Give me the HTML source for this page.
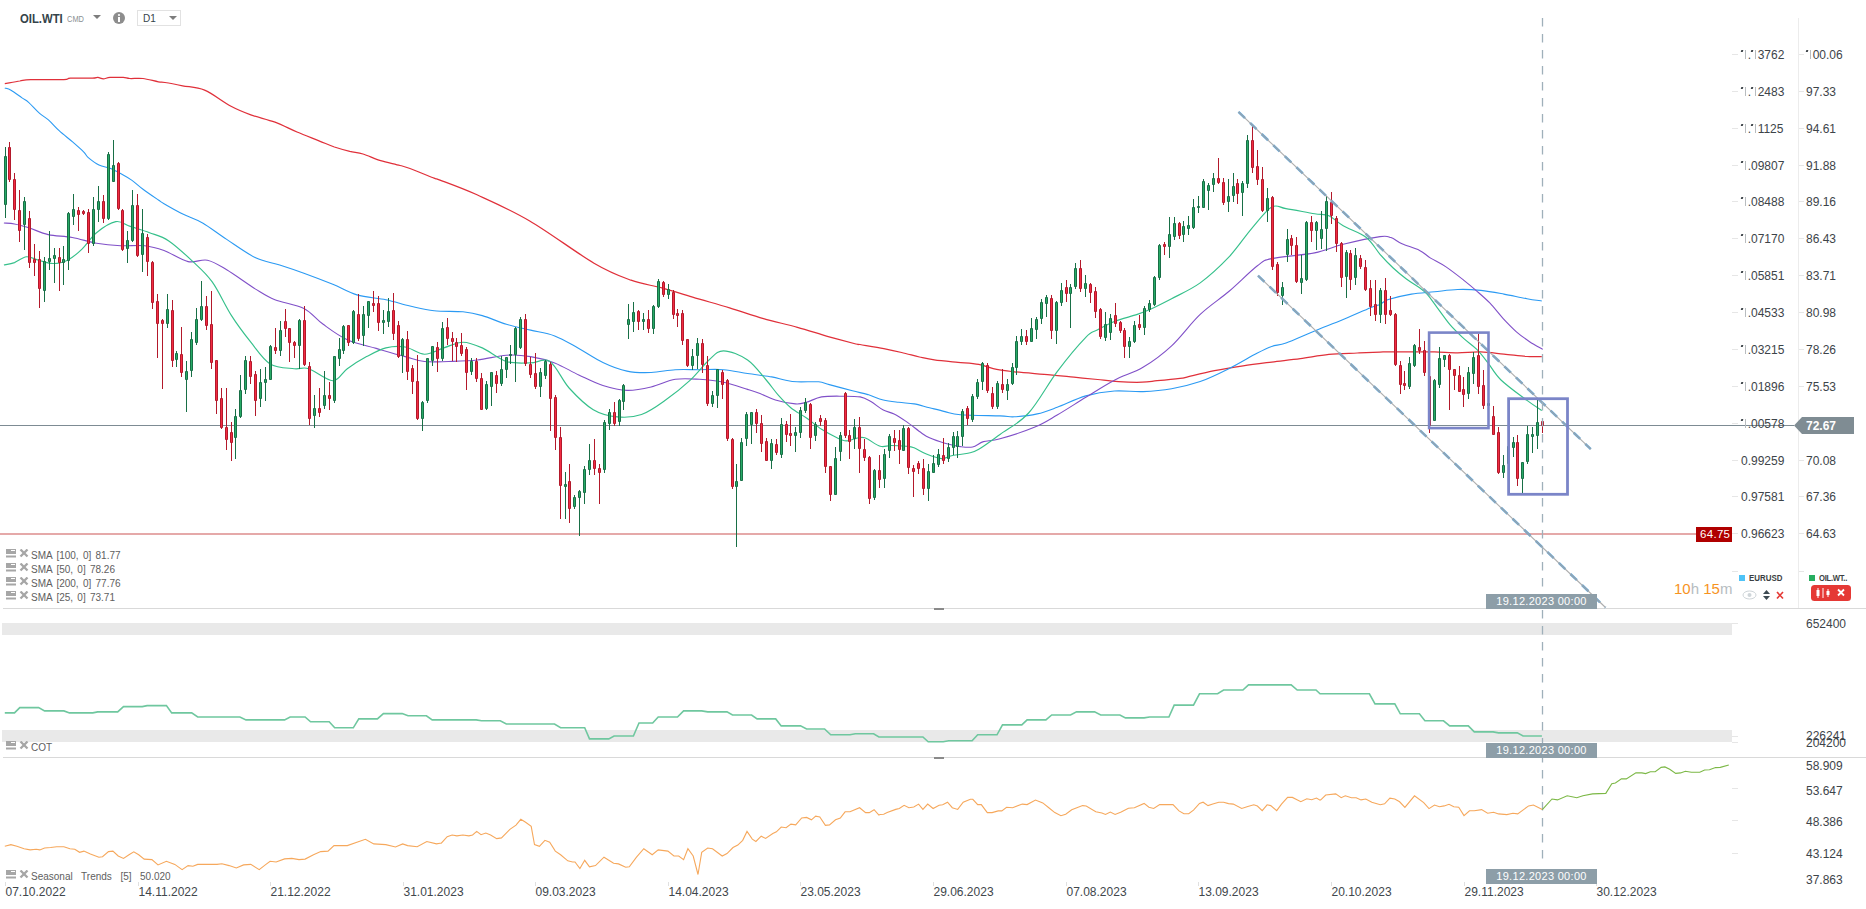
<!DOCTYPE html>
<html><head><meta charset="utf-8">
<style>
html,body{margin:0;padding:0;background:#fff;width:1866px;height:909px;overflow:hidden}
body{position:relative;font-family:"Liberation Sans",sans-serif}
.t{position:absolute;white-space:nowrap;line-height:1}
.ax{font-size:12px;color:#3d4449}
.dt{font-size:12px;color:#41474c;top:886px}
.lg{font-size:10px;color:#606060;word-spacing:1.5px}
.tag{position:absolute;background:#8d9ea8;color:#fff;font-size:11px;letter-spacing:0.3px;line-height:15px;height:15px;text-align:center}
.ic{position:absolute}
.one{display:inline-block;position:relative;width:6.67px;height:9px;vertical-align:baseline}.one:before{content:"";position:absolute;left:0.3px;top:-0.2px;width:1.6px;height:2.4px;background:#3d4449;transform:skewX(-15deg)}.one:after{content:"";position:absolute;left:4px;top:0;width:0.9px;height:8.8px;background:#b8bcbf}

</style></head><body>
<svg width="1866" height="909" viewBox="0 0 1866 909" style="position:absolute;left:0;top:0">
<rect x="2" y="623" width="1730" height="12" fill="#e9e9e9"/>
<rect x="2" y="730" width="1730" height="12" fill="#e9e9e9"/>
<line x1="3" y1="608.5" x2="1866" y2="608.5" stroke="#d9d9d9" stroke-width="1"/>
<line x1="3" y1="757.5" x2="1866" y2="757.5" stroke="#d9d9d9" stroke-width="1"/>
<rect x="934" y="608" width="10" height="2" fill="#8a8a8a"/>
<rect x="934" y="757" width="10" height="2" fill="#8a8a8a"/>
<line x1="1798.5" y1="18" x2="1798.5" y2="608" stroke="#ececec" stroke-width="1"/>
<line x1="1732" y1="54.5" x2="1738" y2="54.5" stroke="#e6e6e6"/>
<line x1="1799" y1="54.5" x2="1804" y2="54.5" stroke="#e6e6e6"/>
<line x1="1732" y1="91.5" x2="1738" y2="91.5" stroke="#e6e6e6"/>
<line x1="1799" y1="91.5" x2="1804" y2="91.5" stroke="#e6e6e6"/>
<line x1="1732" y1="128.5" x2="1738" y2="128.5" stroke="#e6e6e6"/>
<line x1="1799" y1="128.5" x2="1804" y2="128.5" stroke="#e6e6e6"/>
<line x1="1732" y1="165.5" x2="1738" y2="165.5" stroke="#e6e6e6"/>
<line x1="1799" y1="165.5" x2="1804" y2="165.5" stroke="#e6e6e6"/>
<line x1="1732" y1="201.5" x2="1738" y2="201.5" stroke="#e6e6e6"/>
<line x1="1799" y1="201.5" x2="1804" y2="201.5" stroke="#e6e6e6"/>
<line x1="1732" y1="238.5" x2="1738" y2="238.5" stroke="#e6e6e6"/>
<line x1="1799" y1="238.5" x2="1804" y2="238.5" stroke="#e6e6e6"/>
<line x1="1732" y1="275.5" x2="1738" y2="275.5" stroke="#e6e6e6"/>
<line x1="1799" y1="275.5" x2="1804" y2="275.5" stroke="#e6e6e6"/>
<line x1="1732" y1="312.5" x2="1738" y2="312.5" stroke="#e6e6e6"/>
<line x1="1799" y1="312.5" x2="1804" y2="312.5" stroke="#e6e6e6"/>
<line x1="1732" y1="349.5" x2="1738" y2="349.5" stroke="#e6e6e6"/>
<line x1="1799" y1="349.5" x2="1804" y2="349.5" stroke="#e6e6e6"/>
<line x1="1732" y1="386.5" x2="1738" y2="386.5" stroke="#e6e6e6"/>
<line x1="1799" y1="386.5" x2="1804" y2="386.5" stroke="#e6e6e6"/>
<line x1="1732" y1="423.5" x2="1738" y2="423.5" stroke="#e6e6e6"/>
<line x1="1799" y1="423.5" x2="1804" y2="423.5" stroke="#e6e6e6"/>
<line x1="1732" y1="460.5" x2="1738" y2="460.5" stroke="#e6e6e6"/>
<line x1="1799" y1="460.5" x2="1804" y2="460.5" stroke="#e6e6e6"/>
<line x1="1732" y1="496.5" x2="1738" y2="496.5" stroke="#e6e6e6"/>
<line x1="1799" y1="496.5" x2="1804" y2="496.5" stroke="#e6e6e6"/>
<line x1="1732" y1="533.5" x2="1738" y2="533.5" stroke="#e6e6e6"/>
<line x1="1799" y1="533.5" x2="1804" y2="533.5" stroke="#e6e6e6"/>
<line x1="1732" y1="571.5" x2="1738" y2="571.5" stroke="#e6e6e6"/>
<line x1="1799" y1="571.5" x2="1804" y2="571.5" stroke="#e6e6e6"/>
<line x1="1732" y1="623.5" x2="1738" y2="623.5" stroke="#e6e6e6"/>
<line x1="1732" y1="736.5" x2="1738" y2="736.5" stroke="#e6e6e6"/>
<line x1="1732" y1="742.5" x2="1738" y2="742.5" stroke="#e6e6e6"/>
<line x1="1732" y1="788.5" x2="1738" y2="788.5" stroke="#e6e6e6"/>
<line x1="1732" y1="820.5" x2="1738" y2="820.5" stroke="#e6e6e6"/>
<line x1="1732" y1="853.5" x2="1738" y2="853.5" stroke="#e6e6e6"/>
<line x1="5.5" y1="882" x2="5.5" y2="886" stroke="#e0e0e0"/>
<line x1="138.5" y1="882" x2="138.5" y2="886" stroke="#e0e0e0"/>
<line x1="270.5" y1="882" x2="270.5" y2="886" stroke="#e0e0e0"/>
<line x1="403.5" y1="882" x2="403.5" y2="886" stroke="#e0e0e0"/>
<line x1="535.5" y1="882" x2="535.5" y2="886" stroke="#e0e0e0"/>
<line x1="668.5" y1="882" x2="668.5" y2="886" stroke="#e0e0e0"/>
<line x1="800.5" y1="882" x2="800.5" y2="886" stroke="#e0e0e0"/>
<line x1="933.5" y1="882" x2="933.5" y2="886" stroke="#e0e0e0"/>
<line x1="1066.5" y1="882" x2="1066.5" y2="886" stroke="#e0e0e0"/>
<line x1="1198.5" y1="882" x2="1198.5" y2="886" stroke="#e0e0e0"/>
<line x1="1331.5" y1="882" x2="1331.5" y2="886" stroke="#e0e0e0"/>
<line x1="1464.5" y1="882" x2="1464.5" y2="886" stroke="#e0e0e0"/>
<line x1="1596.5" y1="882" x2="1596.5" y2="886" stroke="#e0e0e0"/>
<line x1="0" y1="425.5" x2="1794" y2="425.5" stroke="#7d8b93" stroke-width="1.2"/>
<line x1="0" y1="534" x2="1697" y2="534" stroke="#cc5555" stroke-width="1.2"/>
<path d="M4.8,83.6 C7.3,83.2 15.5,81.6 19.8,81.0 C24.1,80.3 23.5,79.9 30.8,79.6 C38.1,79.4 57.2,79.9 63.8,79.6 C70.4,79.4 65.6,78.4 70.4,78.1 C75.2,77.9 87.8,78.2 92.4,78.1 C97.0,78.0 96.1,77.3 97.9,77.4 C99.7,77.6 101.4,78.8 103.4,78.8 C105.4,78.8 106.7,77.7 110.0,77.4 C113.3,77.2 119.9,77.3 123.2,77.4 C126.5,77.6 126.5,78.4 129.8,78.5 C133.1,78.7 138.2,78.0 143.0,78.5 C147.8,79.1 154.7,81.2 158.4,81.8 C162.1,82.5 161.0,81.8 165.0,82.5 C169.1,83.2 176.0,84.5 182.6,85.8 C189.2,87.1 196.6,86.8 204.6,90.2 C212.7,93.6 223.3,102.2 231.0,106.3 C238.7,110.4 243.5,112.2 250.8,114.9 C258.2,117.5 267.3,119.3 275.0,122.1 C282.7,125.0 289.7,128.9 297.0,132.0 C304.4,135.1 312.8,138.3 319.0,140.8 C325.3,143.3 329.3,145.2 334.4,147.0 C339.6,148.7 345.1,150.2 349.8,151.4 C354.6,152.5 357.9,152.5 363.0,154.0 C368.2,155.6 374.5,158.7 380.6,160.6 C386.8,162.5 395.1,164.1 400.0,165.5 C404.9,166.8 404.3,166.4 410.0,168.5 C415.7,170.6 429.1,176.2 434.1,178.2 C439.1,180.1 432.9,177.3 440.0,180.1 C447.1,182.8 462.1,188.1 477.0,194.8 C491.9,201.6 509.8,209.3 529.3,220.7 C548.9,232.1 577.1,253.3 594.0,263.2 C611.0,273.2 619.7,276.1 631.0,280.2 C642.3,284.3 651.6,285.1 661.8,287.9 C672.1,290.7 681.3,293.8 692.6,297.1 C703.9,300.5 717.8,304.3 729.6,307.9 C741.4,311.5 752.2,315.5 763.5,318.7 C774.8,321.9 786.6,324.3 797.4,327.3 C808.2,330.3 818.4,333.8 828.2,336.6 C838.0,339.3 850.6,342.6 855.9,344.0 C861.2,345.3 855.4,343.7 860.0,344.5 C864.6,345.3 876.8,347.3 883.8,348.6 C890.7,350.0 895.7,351.1 901.6,352.5 C907.5,353.9 914.0,355.7 919.4,357.0 C924.9,358.2 927.8,359.0 934.3,359.9 C940.7,360.8 950.6,361.6 958.0,362.3 C965.5,363.0 972.4,363.2 978.8,364.4 C985.3,365.6 990.7,368.2 996.7,369.4 C1002.6,370.7 1005.6,370.9 1014.5,371.8 C1023.4,372.7 1040.2,373.9 1050.1,374.8 C1060.0,375.7 1066.0,376.4 1073.9,377.2 C1081.8,377.9 1090.2,378.8 1097.7,379.5 C1105.1,380.3 1111.0,381.2 1118.5,381.6 C1125.9,382.1 1135.8,382.4 1142.2,382.2 C1148.7,382.1 1150.8,381.4 1157.1,380.7 C1163.4,380.1 1175.2,378.9 1180.0,378.3 C1184.8,377.8 1180.1,378.6 1185.9,377.3 C1191.6,376.0 1204.9,372.6 1214.5,370.7 C1224.0,368.8 1233.5,367.3 1243.1,365.9 C1252.6,364.4 1262.1,363.3 1271.7,362.1 C1281.2,360.9 1290.7,360.0 1300.3,358.7 C1309.8,357.4 1319.3,355.4 1328.9,354.4 C1338.4,353.5 1348.9,353.4 1357.4,353.0 C1366.0,352.6 1374.9,352.3 1380.0,352.1 C1385.2,351.9 1383.1,351.9 1388.3,351.9 C1393.6,351.8 1403.7,351.9 1411.4,351.9 C1419.1,351.9 1426.9,351.7 1434.6,351.9 C1442.3,352.0 1450.0,352.8 1457.7,352.8 C1465.4,352.8 1473.1,351.6 1480.8,351.9 C1488.5,352.1 1496.2,353.4 1503.9,354.2 C1511.6,354.9 1520.7,356.1 1527.0,356.5 C1533.3,356.9 1539.3,356.5 1541.8,356.5" fill="none" stroke="#e0303a" stroke-width="1.25" stroke-linejoin="round"/>
<path d="M4.8,88.0 C5.9,88.4 8.1,88.6 11.0,90.2 C13.9,91.9 19.1,95.9 22.0,97.9 C24.9,99.9 25.7,99.7 28.6,102.3 C31.5,104.9 36.3,110.4 39.6,113.3 C42.9,116.2 45.1,117.0 48.4,119.9 C51.7,122.8 55.4,127.2 59.4,130.9 C63.4,134.6 68.6,138.4 72.6,141.9 C76.6,145.4 81.0,149.2 83.6,151.8 C86.2,154.4 85.4,155.1 88.0,157.3 C90.6,159.5 95.3,163.2 99.0,165.0 C102.7,166.9 106.3,166.9 110.0,168.3 C113.7,169.8 117.3,171.8 121.0,173.8 C124.7,175.8 128.3,177.9 132.0,180.4 C135.7,183.0 138.6,186.0 143.0,189.2 C147.4,192.5 154.9,197.6 158.4,200.0 C161.9,202.4 159.8,201.3 164.0,203.7 C168.1,206.1 176.9,211.1 183.3,214.3 C189.7,217.6 195.3,218.8 202.6,223.0 C209.8,227.2 217.8,233.6 226.7,239.4 C235.5,245.2 246.8,253.5 255.6,257.8 C264.5,262.0 271.7,262.4 279.7,265.0 C287.8,267.6 295.0,270.0 303.9,273.2 C312.7,276.4 324.0,280.7 332.8,284.3 C341.6,287.9 348.1,292.3 356.9,294.9 C365.8,297.5 377.0,297.9 385.9,299.7 C394.7,301.6 401.9,304.1 410.0,306.0 C418.0,307.8 425.2,309.8 434.1,310.8 C442.9,311.8 455.0,311.0 463.0,311.8 C471.1,312.6 475.1,313.5 482.3,315.6 C489.6,317.7 498.4,321.9 506.4,324.3 C514.5,326.7 522.5,328.2 530.6,330.1 C538.6,332.0 546.6,332.8 554.7,335.9 C562.7,338.9 570.7,344.0 578.8,348.4 C586.8,352.9 594.9,358.6 602.9,362.4 C610.9,366.2 619.0,369.4 627.0,371.1 C635.1,372.8 643.1,372.8 651.1,372.5 C659.2,372.3 667.2,370.1 675.3,369.7 C683.3,369.2 691.3,369.7 699.4,369.7 C707.4,369.7 715.4,369.0 723.5,369.7 C731.5,370.3 739.6,372.3 747.6,373.5 C755.6,374.7 765.5,375.8 771.7,376.9 C777.9,378.0 780.4,379.2 784.7,380.0 C788.9,380.8 791.3,381.5 797.0,381.8 C802.6,382.2 813.2,381.4 818.6,381.8 C823.9,382.3 823.7,383.1 829.3,384.6 C835.0,386.1 846.0,389.1 852.4,390.8 C858.9,392.5 862.7,393.1 867.9,394.6 C873.0,396.2 878.1,398.7 883.3,400.0 C888.4,401.3 893.5,401.7 898.7,402.3 C903.8,403.0 908.9,403.0 914.1,403.9 C919.2,404.8 924.4,406.5 929.5,407.7 C934.6,409.0 939.8,410.4 944.9,411.6 C950.0,412.7 951.1,414.0 960.3,414.7 C969.5,415.4 991.0,415.6 1000.0,415.9 C1009.0,416.2 1008.1,417.1 1014.3,416.8 C1020.5,416.4 1030.0,415.5 1037.2,413.9 C1044.3,412.3 1049.1,410.3 1057.2,407.3 C1065.3,404.3 1076.3,398.6 1085.8,395.9 C1095.3,393.2 1104.9,391.7 1114.4,391.0 C1123.9,390.3 1133.4,392.0 1143.0,391.6 C1152.5,391.2 1162.0,390.4 1171.6,388.7 C1181.1,387.1 1190.6,384.9 1200.2,381.6 C1209.7,378.2 1219.2,373.5 1228.8,368.7 C1238.3,364.0 1250.2,356.7 1257.4,353.0 C1264.5,349.3 1266.9,348.1 1271.7,346.4 C1276.4,344.7 1278.8,345.6 1286.0,343.0 C1293.1,340.4 1305.0,334.9 1314.6,331.0 C1324.1,327.1 1333.6,323.5 1343.2,319.5 C1352.7,315.6 1365.6,309.8 1371.7,307.2 C1377.9,304.7 1377.3,305.6 1380.0,304.4 C1382.8,303.1 1383.1,301.4 1388.3,299.6 C1393.6,297.9 1403.7,295.4 1411.4,294.1 C1419.1,292.8 1426.9,292.6 1434.6,291.8 C1442.3,291.0 1450.0,289.7 1457.7,289.5 C1465.4,289.2 1473.1,289.6 1480.8,290.4 C1488.5,291.2 1496.2,292.7 1503.9,294.1 C1511.6,295.5 1520.7,297.6 1527.0,298.7 C1533.3,299.9 1539.3,300.6 1541.8,301.0" fill="none" stroke="#2b9af3" stroke-width="1.1" stroke-linejoin="round"/>
<path d="M3.9,223.0 C5.6,223.2 10.3,223.2 14.5,224.0 C18.6,224.8 23.3,226.1 28.9,227.8 C34.6,229.6 41.0,233.0 48.2,234.6 C55.5,236.2 64.3,236.0 72.3,237.5 C80.4,238.9 88.4,241.9 96.5,243.3 C104.5,244.6 112.5,245.3 120.6,245.7 C128.6,246.1 137.5,244.9 144.7,245.7 C151.9,246.5 156.8,247.9 164.0,250.5 C171.2,253.2 180.9,260.0 188.1,261.6 C195.3,263.2 201.0,258.8 207.4,260.2 C213.8,261.5 218.7,265.0 226.7,269.8 C234.7,274.6 247.6,284.1 255.6,289.1 C263.7,294.1 266.9,296.5 274.9,299.7 C283.0,302.9 295.8,304.3 303.9,308.4 C311.9,312.5 315.9,319.1 323.2,324.3 C330.4,329.5 338.4,335.7 347.3,339.7 C356.1,343.8 366.6,345.6 376.2,348.4 C385.9,351.2 397.1,354.5 405.2,356.6 C413.2,358.8 417.2,360.6 424.4,361.5 C431.7,362.3 439.7,361.7 448.6,361.5 C457.4,361.2 467.9,361.0 477.5,360.0 C487.1,359.0 497.6,355.7 506.4,355.2 C515.3,354.6 522.5,355.3 530.6,356.6 C538.6,357.9 546.6,359.8 554.7,362.9 C562.7,366.0 570.7,371.2 578.8,375.0 C586.8,378.7 594.9,383.0 602.9,385.6 C610.9,388.1 619.0,390.2 627.0,390.4 C635.1,390.6 643.1,388.9 651.1,387.0 C659.2,385.2 667.2,380.6 675.3,379.3 C683.3,378.0 691.3,378.8 699.4,379.3 C707.4,379.8 715.4,380.5 723.5,382.2 C731.5,383.9 741.5,387.5 747.6,389.4 C753.7,391.3 755.4,391.8 760.0,393.6 C764.6,395.3 769.5,398.3 775.4,400.0 C781.3,401.8 790.3,403.5 795.4,403.9 C800.6,404.3 801.9,403.5 806.2,402.3 C810.6,401.2 815.5,398.0 821.6,396.9 C827.8,395.9 836.8,396.2 843.2,396.2 C849.6,396.2 855.5,396.1 860.2,396.9 C864.8,397.8 867.1,399.4 870.9,401.6 C874.8,403.8 879.4,408.0 883.3,410.0 C887.1,412.1 890.2,412.0 894.1,413.9 C897.9,415.8 901.8,418.4 906.4,421.6 C911.0,424.8 917.9,430.5 921.8,433.2 C925.6,435.9 925.6,436.1 929.5,437.8 C933.3,439.5 939.8,441.7 944.9,443.2 C950.0,444.6 955.7,445.9 960.3,446.6 C964.9,447.2 968.8,447.8 972.6,447.0 C976.5,446.2 978.9,443.0 983.4,441.6 C988.0,440.3 991.5,441.2 1000.0,438.8 C1008.5,436.4 1024.8,431.3 1034.3,427.3 C1043.8,423.4 1048.6,420.0 1057.2,415.0 C1065.8,410.0 1076.3,403.1 1085.8,397.3 C1095.3,391.5 1104.9,385.2 1114.4,380.2 C1123.9,375.2 1133.4,373.0 1143.0,367.3 C1152.5,361.6 1162.0,354.7 1171.6,345.8 C1181.1,337.0 1190.6,323.4 1200.2,314.4 C1209.7,305.3 1219.2,299.6 1228.8,291.5 C1238.3,283.4 1250.2,271.3 1257.4,265.8 C1264.5,260.3 1262.1,260.8 1271.7,258.6 C1281.2,256.5 1302.6,255.3 1314.6,252.9 C1326.5,250.5 1332.2,247.0 1343.2,244.3 C1354.1,241.6 1372.1,237.7 1380.0,236.6 C1388.0,235.5 1387.3,236.4 1391.0,237.6 C1394.7,238.8 1397.2,241.7 1402.0,243.8 C1406.8,245.9 1414.8,248.0 1419.6,250.4 C1424.4,252.8 1426.2,255.3 1430.6,258.1 C1435.0,260.8 1440.5,263.2 1446.0,266.9 C1451.5,270.6 1458.5,276.1 1463.6,280.1 C1468.7,284.1 1472.4,287.2 1476.8,291.1 C1481.2,294.9 1485.6,298.6 1490.0,303.2 C1494.4,307.8 1498.8,313.8 1503.2,318.6 C1507.6,323.3 1512.0,327.9 1516.4,331.8 C1520.8,335.6 1525.2,338.7 1529.6,341.7 C1534.0,344.6 1540.6,348.1 1542.8,349.4" fill="none" stroke="#8050c8" stroke-width="1.1" stroke-linejoin="round"/>
<path d="M3.9,265.0 C5.6,264.6 10.7,263.9 14.5,262.6 C18.2,261.2 22.5,257.2 26.5,256.8 C30.5,256.4 34.2,259.0 38.6,260.2 C43.0,261.3 48.2,263.5 53.1,263.5 C57.9,263.5 62.7,262.6 67.5,260.2 C72.3,257.8 77.2,253.7 82.0,249.1 C86.8,244.5 90.8,237.3 96.5,232.7 C102.1,228.1 110.1,222.6 115.8,221.6 C121.4,220.5 124.6,224.6 130.2,226.4 C135.9,228.3 143.1,230.3 149.5,232.7 C156.0,235.1 161.6,236.0 168.8,240.9 C176.0,245.7 185.7,254.8 192.9,261.6 C200.2,268.4 205.8,272.9 212.2,281.9 C218.7,290.9 225.1,305.6 231.5,315.6 C237.9,325.7 244.4,334.1 250.8,342.2 C257.2,350.2 262.9,359.4 270.1,363.9 C277.3,368.3 287.8,367.9 294.2,368.7 C300.6,369.5 302.3,366.7 308.7,368.7 C315.1,370.7 326.4,380.7 332.8,380.7 C339.2,380.7 341.6,372.7 347.3,368.7 C352.9,364.7 360.1,360.1 366.6,356.6 C373.0,353.2 379.4,349.6 385.9,347.9 C392.3,346.3 398.7,345.9 405.2,347.0 C411.6,348.0 418.0,354.1 424.4,354.2 C430.9,354.4 437.3,350.0 443.7,347.9 C450.2,345.9 456.6,342.2 463.0,342.2 C469.5,342.2 475.1,344.7 482.3,347.9 C489.6,351.2 498.4,359.0 506.4,361.5 C514.5,363.9 523.3,362.9 530.6,362.9 C537.8,362.9 543.4,357.3 549.8,361.5 C556.3,365.6 561.9,379.9 569.1,388.0 C576.4,396.0 585.2,404.9 593.3,409.7 C601.3,414.5 609.3,416.1 617.4,416.9 C625.4,417.7 633.5,417.3 641.5,414.5 C649.5,411.7 657.6,405.7 665.6,400.0 C673.6,394.4 682.5,387.4 689.7,380.7 C697.0,374.1 703.4,365.0 709.0,360.0 C714.6,355.0 717.1,350.8 723.5,350.8 C729.9,350.8 740.5,355.1 747.6,360.0 C754.7,364.9 761.0,374.1 766.2,380.0 C771.3,385.9 774.4,390.8 778.5,395.4 C782.6,400.0 786.2,404.0 790.8,407.7 C795.4,411.5 801.1,414.2 806.2,417.8 C811.4,421.3 816.5,426.0 821.6,429.3 C826.8,432.6 832.9,435.9 837.0,437.8 C841.2,439.7 843.2,440.7 846.3,440.9 C849.4,441.0 852.4,439.1 855.5,438.6 C858.6,438.0 860.7,436.5 864.8,437.8 C868.9,439.1 875.8,445.0 880.2,446.3 C884.6,447.5 886.6,445.5 891.0,445.5 C895.3,445.5 902.5,445.9 906.4,446.3 C910.2,446.6 910.7,446.5 914.1,447.8 C917.4,449.1 921.8,452.2 926.4,454.0 C931.0,455.8 937.5,458.3 941.8,458.6 C946.2,458.8 948.2,456.4 952.6,455.5 C957.0,454.6 963.6,454.2 968.0,453.2 C972.4,452.2 973.5,452.5 978.8,449.3 C984.1,446.2 991.7,440.5 1000.0,434.5 C1008.3,428.4 1019.1,423.5 1028.6,413.0 C1038.1,402.6 1047.7,384.2 1057.2,371.6 C1066.7,358.9 1079.1,344.2 1085.8,337.3 C1092.5,330.3 1092.5,332.7 1097.2,330.1 C1102.0,327.5 1107.7,324.2 1114.4,321.5 C1121.1,318.9 1131.1,316.5 1137.3,314.4 C1143.5,312.2 1145.8,311.3 1151.6,308.7 C1157.3,306.0 1163.5,302.9 1171.6,298.7 C1179.7,294.4 1190.6,289.8 1200.2,282.9 C1209.7,276.0 1220.2,266.2 1228.8,257.2 C1237.3,248.1 1244.5,236.9 1251.6,228.6 C1258.8,220.3 1265.9,210.5 1271.7,207.1 C1277.4,203.8 1278.8,207.5 1286.0,208.6 C1293.1,209.7 1307.4,212.5 1314.6,213.7 C1321.7,214.9 1324.1,213.7 1328.9,215.7 C1333.6,217.7 1337.0,222.2 1343.2,225.7 C1349.3,229.3 1359.9,232.4 1366.0,237.2 C1372.2,241.9 1375.5,249.2 1380.0,254.3 C1384.6,259.5 1388.8,263.9 1393.2,268.0 C1397.6,272.1 1402.0,275.7 1406.4,279.0 C1410.8,282.3 1416.1,285.2 1419.6,287.8 C1423.1,290.4 1424.4,291.1 1427.3,294.4 C1430.2,297.7 1433.3,302.5 1437.2,307.6 C1441.0,312.7 1446.0,320.0 1450.4,325.2 C1454.8,330.3 1459.2,334.3 1463.6,338.4 C1468.0,342.4 1472.8,345.3 1476.8,349.4 C1480.8,353.4 1483.8,357.5 1487.8,362.6 C1491.8,367.7 1494.5,373.7 1501.0,380.0 C1507.5,386.3 1520.2,395.3 1527.0,400.4 C1533.8,405.5 1539.3,408.9 1541.8,410.6" fill="none" stroke="#36c08b" stroke-width="1.15" stroke-linejoin="round"/>
<path d="M5.5,147V218M24.5,197V250M44.5,257V302M49.5,231V270M54.5,248V283M63.5,246V285M68.5,212V270M73.5,194V225M93.5,197V246M98.5,186V222M108.5,152V220M113.5,140V182M127.5,231V263M132.5,190V242M142.5,209V272M167.5,294V328M176.5,351V367M186.5,361V412M191.5,332V377M196.5,308V345M201.5,281V321M235.5,409V459M240.5,375V418M245.5,356V394M260.5,369V407M265.5,367V401M270.5,345V380M280.5,321V356M299.5,319V369M314.5,395V428M324.5,371V409M334.5,356V403M339.5,338V366M343.5,325V354M353.5,310V344M363.5,306V346M368.5,301V328M383.5,310V334M388.5,298V327M402.5,338V373M422.5,401V431M427.5,358V403M432.5,346V366M442.5,322V361M471.5,358V375M486.5,381V410M491.5,372V406M501.5,356V386M506.5,357V378M510.5,345V364M515.5,327V382M520.5,317V349M540.5,368V397M545.5,360V379M565.5,472V519M574.5,495V509M579.5,490V536M584.5,466V504M589.5,444V475M604.5,420V473M609.5,409V430M619.5,399V426M623.5,384V410M628.5,304V339M633.5,302V332M643.5,313V330M653.5,305V334M658.5,279V308M668.5,284V299M692.5,349V370M697.5,338V369M712.5,391V407M717.5,369V408M736.5,464V547M741.5,438V481M746.5,412V446M751.5,412V444M771.5,439V469M781.5,418V458M795.5,427V452M800.5,407V438M805.5,398V413M815.5,422V441M835.5,447V495M840.5,432V461M854.5,419V449M874.5,469V500M884.5,449V488M889.5,434V458M903.5,425V451M928.5,464V501M933.5,455V473M938.5,449V467M948.5,443V462M953.5,432V455M957.5,431V458M962.5,409V446M972.5,394V422M977.5,379V399M982.5,362V390M997.5,381V409M1007.5,379V400M1012.5,363V385M1016.5,336V375M1021.5,329V345M1031.5,318V342M1036.5,317V339M1041.5,299V324M1046.5,295V317M1056.5,301V344M1061.5,283V306M1070.5,284V328M1075.5,263V289M1085.5,275V297M1105.5,312V341M1110.5,314V340M1129.5,337V358M1134.5,321V343M1144.5,306V335M1149.5,300V312M1154.5,276V306M1159.5,244V280M1169.5,217V258M1174.5,217V240M1183.5,221V242M1188.5,216V235M1193.5,199V229M1198.5,196V213M1203.5,179V208M1208.5,183V210M1213.5,173V192M1228.5,179V212M1233.5,173V202M1242.5,181V216M1247.5,135V188M1267.5,188V222M1282.5,282V305M1287.5,229V262M1301.5,255V294M1306.5,221V281M1316.5,221V250M1321.5,211V249M1326.5,196V251M1346.5,250V298M1355.5,248V285M1380.5,288V323M1409.5,357V389M1414.5,344V367M1434.5,379V421M1439.5,347V388M1444.5,355V367M1468.5,367V399M1473.5,352V384M1488.5,399V409M1503.5,455V478M1508.5,445V465M1513.5,437V457M1522.5,462V493M1527.5,426V464M1532.5,427V453M1537.5,400V449" stroke="#186f46" stroke-width="1" fill="none"/>
<path d="M9.5,142V182M14.5,173V220M19.5,190V242M29.5,211V268M34.5,244V276M39.5,251V308M59.5,248V291M78.5,207V231M83.5,210V215M88.5,209V253M103.5,195V223M118.5,162V210M122.5,209V251M137.5,194V257M147.5,234V276M152.5,261V309M157.5,294V358M162.5,319V389M172.5,300V367M181.5,327V377M206.5,296V330M211.5,291V369M216.5,360V414M221.5,388V429M226.5,388V450M231.5,422V461M250.5,356V384M255.5,371V416M275.5,328V354M285.5,309V337M289.5,328V362M294.5,341V358M304.5,306V366M309.5,362V425M319.5,388V417M329.5,382V410M348.5,325V346M358.5,294V341M373.5,291V312M378.5,296V331M393.5,293V340M398.5,321V358M407.5,331V380M412.5,365V394M417.5,355V420M437.5,342V372M447.5,318V345M452.5,332V361M456.5,338V362M461.5,333V356M466.5,347V390M476.5,358V382M481.5,373V410M496.5,371V393M525.5,314V366M530.5,357V378M535.5,353V389M550.5,362V431M555.5,395V450M560.5,427V519M569.5,464V523M594.5,439V475M599.5,464V504M614.5,402V426M638.5,310V330M648.5,310V333M663.5,281V297M673.5,290V319M677.5,309V327M682.5,310V345M687.5,339V367M702.5,339V373M707.5,356V406M722.5,370V399M727.5,379V441M732.5,438V489M756.5,409V433M761.5,415V452M766.5,438V461M776.5,439V455M786.5,421V442M790.5,414V446M810.5,403V449M820.5,415V426M825.5,418V473M830.5,466V501M845.5,392V438M849.5,430V459M859.5,417V473M864.5,439V461M869.5,456V504M879.5,455V488M894.5,430V451M899.5,430V464M908.5,427V474M913.5,465V497M918.5,461V474M923.5,459V495M943.5,438V464M967.5,406V425M987.5,363V393M992.5,387V409M1002.5,369V393M1026.5,330V345M1051.5,295V339M1066.5,280V302M1080.5,260V292M1090.5,283V303M1095.5,287V318M1100.5,308V339M1115.5,303V327M1120.5,321V333M1124.5,328V358M1139.5,315V330M1164.5,242V255M1179.5,222V239M1218.5,158V184M1223.5,178V205M1237.5,179V204M1252.5,125V173M1257.5,150V185M1262.5,167V212M1272.5,196V270M1277.5,262V296M1291.5,235V255M1296.5,237V283M1311.5,216V242M1331.5,192V224M1336.5,216V252M1341.5,242V287M1350.5,250V290M1360.5,255V269M1365.5,260V291M1370.5,280V316M1375.5,280V321M1385.5,278V324M1390.5,296V316M1395.5,313V366M1400.5,361V394M1404.5,371V390M1419.5,329V354M1424.5,341V376M1429.5,374V433M1449.5,354V410M1454.5,369V390M1459.5,366V392M1463.5,377V407M1478.5,334V394M1483.5,370V409M1493.5,406V435M1498.5,427V474M1517.5,435V486M1542.5,420V433" stroke="#b3192b" stroke-width="1" fill="none"/>
<path d="M4.5,156.5H6.5V204.5H4.5ZM23.5,201.5H25.5V224.5H23.5ZM43.5,261.5H45.5V290.5H43.5ZM48.5,258.5H50.5V261.5H48.5ZM53.5,255.5H55.5V258.5H53.5ZM62.5,259.5H64.5V262.5H62.5ZM67.5,213.5H69.5V260.5H67.5ZM72.5,209.5H74.5V216.5H72.5ZM92.5,209.5H94.5V243.5H92.5ZM97.5,201.5H99.5V209.5H97.5ZM107.5,154.5H109.5V218.5H107.5ZM112.5,165.5H114.5V181.5H112.5ZM126.5,240.5H128.5V248.5H126.5ZM131.5,205.5H133.5V240.5H131.5ZM141.5,233.5H143.5V254.5H141.5ZM166.5,309.5H168.5V323.5H166.5ZM175.5,353.5H177.5V359.5H175.5ZM185.5,371.5H187.5V379.5H185.5ZM190.5,339.5H192.5V370.5H190.5ZM195.5,319.5H197.5V342.5H195.5ZM200.5,306.5H202.5V319.5H200.5ZM234.5,416.5H236.5V437.5H234.5ZM239.5,390.5H241.5V416.5H239.5ZM244.5,360.5H246.5V389.5H244.5ZM259.5,382.5H261.5V398.5H259.5ZM264.5,379.5H266.5V382.5H264.5ZM269.5,346.5H271.5V379.5H269.5ZM279.5,330.5H281.5V350.5H279.5ZM298.5,320.5H300.5V345.5H298.5ZM313.5,408.5H315.5V415.5H313.5ZM323.5,395.5H325.5V405.5H323.5ZM333.5,356.5H335.5V400.5H333.5ZM338.5,349.5H340.5V358.5H338.5ZM342.5,326.5H344.5V350.5H342.5ZM352.5,311.5H354.5V342.5H352.5ZM362.5,314.5H364.5V335.5H362.5ZM367.5,301.5H369.5V315.5H367.5ZM382.5,320.5H384.5V322.5H382.5ZM387.5,311.5H389.5V321.5H387.5ZM401.5,339.5H403.5V355.5H401.5ZM421.5,402.5H423.5V418.5H421.5ZM426.5,358.5H428.5V400.5H426.5ZM431.5,346.5H433.5V360.5H431.5ZM441.5,328.5H443.5V358.5H441.5ZM470.5,361.5H472.5V371.5H470.5ZM485.5,384.5H487.5V408.5H485.5ZM490.5,372.5H492.5V386.5H490.5ZM500.5,369.5H502.5V383.5H500.5ZM505.5,357.5H507.5V369.5H505.5ZM509.5,354.5H511.5V355.5H509.5ZM514.5,328.5H516.5V354.5H514.5ZM519.5,319.5H521.5V347.5H519.5ZM539.5,372.5H541.5V386.5H539.5ZM544.5,361.5H546.5V375.5H544.5ZM564.5,484.5H566.5V486.5H564.5ZM573.5,497.5H575.5V506.5H573.5ZM578.5,491.5H580.5V497.5H578.5ZM583.5,469.5H585.5V492.5H583.5ZM588.5,460.5H590.5V469.5H588.5ZM603.5,422.5H605.5V469.5H603.5ZM608.5,412.5H610.5V423.5H608.5ZM618.5,400.5H620.5V421.5H618.5ZM622.5,385.5H624.5V401.5H622.5ZM627.5,319.5H629.5V324.5H627.5ZM632.5,312.5H634.5V321.5H632.5ZM642.5,319.5H644.5V321.5H642.5ZM652.5,306.5H654.5V328.5H652.5ZM657.5,281.5H659.5V306.5H657.5ZM667.5,289.5H669.5V294.5H667.5ZM691.5,356.5H693.5V365.5H691.5ZM696.5,343.5H698.5V355.5H696.5ZM711.5,395.5H713.5V403.5H711.5ZM716.5,369.5H718.5V395.5H716.5ZM735.5,481.5H737.5V486.5H735.5ZM740.5,442.5H742.5V480.5H740.5ZM745.5,414.5H747.5V438.5H745.5ZM750.5,412.5H752.5V424.5H750.5ZM770.5,443.5H772.5V460.5H770.5ZM780.5,424.5H782.5V454.5H780.5ZM794.5,432.5H796.5V435.5H794.5ZM799.5,410.5H801.5V432.5H799.5ZM804.5,402.5H806.5V410.5H804.5ZM814.5,424.5H816.5V435.5H814.5ZM834.5,458.5H836.5V494.5H834.5ZM839.5,435.5H841.5V451.5H839.5ZM853.5,427.5H855.5V438.5H853.5ZM873.5,470.5H875.5V497.5H873.5ZM883.5,454.5H885.5V478.5H883.5ZM888.5,436.5H890.5V450.5H888.5ZM902.5,428.5H904.5V450.5H902.5ZM927.5,471.5H929.5V488.5H927.5ZM932.5,463.5H934.5V472.5H932.5ZM937.5,454.5H939.5V464.5H937.5ZM947.5,447.5H949.5V458.5H947.5ZM952.5,436.5H954.5V447.5H952.5ZM956.5,436.5H958.5V446.5H956.5ZM961.5,411.5H963.5V436.5H961.5ZM971.5,396.5H973.5V419.5H971.5ZM976.5,382.5H978.5V396.5H976.5ZM981.5,363.5H983.5V381.5H981.5ZM996.5,383.5H998.5V406.5H996.5ZM1006.5,384.5H1008.5V390.5H1006.5ZM1011.5,367.5H1013.5V383.5H1011.5ZM1015.5,341.5H1017.5V367.5H1015.5ZM1020.5,336.5H1022.5V341.5H1020.5ZM1030.5,328.5H1032.5V341.5H1030.5ZM1035.5,319.5H1037.5V329.5H1035.5ZM1040.5,302.5H1042.5V318.5H1040.5ZM1045.5,297.5H1047.5V303.5H1045.5ZM1055.5,302.5H1057.5V330.5H1055.5ZM1060.5,290.5H1062.5V302.5H1060.5ZM1069.5,287.5H1071.5V293.5H1069.5ZM1074.5,268.5H1076.5V286.5H1074.5ZM1084.5,283.5H1086.5V288.5H1084.5ZM1104.5,324.5H1106.5V337.5H1104.5ZM1109.5,318.5H1111.5V332.5H1109.5ZM1128.5,341.5H1130.5V346.5H1128.5ZM1133.5,325.5H1135.5V341.5H1133.5ZM1143.5,308.5H1145.5V327.5H1143.5ZM1148.5,303.5H1150.5V309.5H1148.5ZM1153.5,277.5H1155.5V304.5H1153.5ZM1158.5,245.5H1160.5V277.5H1158.5ZM1168.5,234.5H1170.5V246.5H1168.5ZM1173.5,223.5H1175.5V236.5H1173.5ZM1182.5,226.5H1184.5V234.5H1182.5ZM1187.5,225.5H1189.5V228.5H1187.5ZM1192.5,207.5H1194.5V227.5H1192.5ZM1197.5,206.5H1199.5V207.5H1197.5ZM1202.5,181.5H1204.5V207.5H1202.5ZM1207.5,185.5H1209.5V190.5H1207.5ZM1212.5,178.5H1214.5V184.5H1212.5ZM1227.5,196.5H1229.5V201.5H1227.5ZM1232.5,186.5H1234.5V195.5H1232.5ZM1241.5,183.5H1243.5V192.5H1241.5ZM1246.5,140.5H1248.5V183.5H1246.5ZM1266.5,198.5H1268.5V210.5H1266.5ZM1281.5,287.5H1283.5V295.5H1281.5ZM1286.5,239.5H1288.5V254.5H1286.5ZM1300.5,278.5H1302.5V282.5H1300.5ZM1305.5,222.5H1307.5V279.5H1305.5ZM1315.5,222.5H1317.5V230.5H1315.5ZM1320.5,229.5H1322.5V238.5H1320.5ZM1325.5,201.5H1327.5V228.5H1325.5ZM1345.5,252.5H1347.5V276.5H1345.5ZM1354.5,255.5H1356.5V277.5H1354.5ZM1379.5,290.5H1381.5V314.5H1379.5ZM1408.5,363.5H1410.5V386.5H1408.5ZM1413.5,345.5H1415.5V365.5H1413.5ZM1433.5,380.5H1435.5V420.5H1433.5ZM1438.5,358.5H1440.5V384.5H1438.5ZM1443.5,355.5H1445.5V359.5H1443.5ZM1467.5,372.5H1469.5V393.5H1467.5ZM1472.5,357.5H1474.5V373.5H1472.5ZM1487.5,403.5H1489.5V405.5H1487.5ZM1502.5,465.5H1504.5V472.5H1502.5ZM1507.5,446.5H1509.5V463.5H1507.5ZM1512.5,442.5H1514.5V447.5H1512.5ZM1521.5,462.5H1523.5V478.5H1521.5ZM1526.5,434.5H1528.5V461.5H1526.5ZM1531.5,434.5H1533.5V436.5H1531.5ZM1536.5,422.5H1538.5V435.5H1536.5Z" fill="#27aa66" stroke="#186f46" stroke-width="1"/>
<path d="M8.5,147.5H10.5V179.5H8.5ZM13.5,179.5H15.5V209.5H13.5ZM18.5,210.5H20.5V230.5H18.5ZM28.5,218.5H30.5V262.5H28.5ZM33.5,259.5H35.5V262.5H33.5ZM38.5,259.5H40.5V288.5H38.5ZM58.5,257.5H60.5V262.5H58.5ZM77.5,210.5H79.5V214.5H77.5ZM82.5,211.5H84.5V213.5H82.5ZM87.5,212.5H89.5V243.5H87.5ZM102.5,201.5H104.5V218.5H102.5ZM117.5,163.5H119.5V208.5H117.5ZM121.5,210.5H123.5V249.5H121.5ZM136.5,205.5H138.5V255.5H136.5ZM146.5,237.5H148.5V261.5H146.5ZM151.5,262.5H153.5V302.5H151.5ZM156.5,301.5H158.5V323.5H156.5ZM161.5,320.5H163.5V323.5H161.5ZM171.5,310.5H173.5V360.5H171.5ZM180.5,354.5H182.5V372.5H180.5ZM205.5,306.5H207.5V325.5H205.5ZM210.5,324.5H212.5V362.5H210.5ZM215.5,360.5H217.5V400.5H215.5ZM220.5,398.5H222.5V427.5H220.5ZM225.5,427.5H227.5V439.5H225.5ZM230.5,432.5H232.5V442.5H230.5ZM249.5,361.5H251.5V376.5H249.5ZM254.5,374.5H256.5V400.5H254.5ZM274.5,347.5H276.5V350.5H274.5ZM284.5,321.5H286.5V328.5H284.5ZM288.5,328.5H290.5V342.5H288.5ZM293.5,342.5H295.5V345.5H293.5ZM303.5,320.5H305.5V364.5H303.5ZM308.5,366.5H310.5V418.5H308.5ZM318.5,408.5H320.5V412.5H318.5ZM328.5,395.5H330.5V398.5H328.5ZM347.5,325.5H349.5V342.5H347.5ZM357.5,314.5H359.5V338.5H357.5ZM372.5,303.5H374.5V305.5H372.5ZM377.5,303.5H379.5V322.5H377.5ZM392.5,310.5H394.5V333.5H392.5ZM397.5,325.5H399.5V356.5H397.5ZM406.5,339.5H408.5V371.5H406.5ZM411.5,368.5H413.5V381.5H411.5ZM416.5,381.5H418.5V418.5H416.5ZM436.5,347.5H438.5V358.5H436.5ZM446.5,327.5H448.5V338.5H446.5ZM451.5,338.5H453.5V341.5H451.5ZM455.5,342.5H457.5V346.5H455.5ZM460.5,345.5H462.5V353.5H460.5ZM465.5,349.5H467.5V372.5H465.5ZM475.5,361.5H477.5V378.5H475.5ZM480.5,378.5H482.5V409.5H480.5ZM495.5,375.5H497.5V383.5H495.5ZM524.5,319.5H526.5V363.5H524.5ZM529.5,364.5H531.5V374.5H529.5ZM534.5,373.5H536.5V386.5H534.5ZM549.5,364.5H551.5V398.5H549.5ZM554.5,397.5H556.5V437.5H554.5ZM559.5,437.5H561.5V485.5H559.5ZM568.5,481.5H570.5V508.5H568.5ZM593.5,460.5H595.5V468.5H593.5ZM598.5,468.5H600.5V472.5H598.5ZM613.5,412.5H615.5V423.5H613.5ZM637.5,311.5H639.5V321.5H637.5ZM647.5,319.5H649.5V328.5H647.5ZM662.5,282.5H664.5V294.5H662.5ZM672.5,292.5H674.5V314.5H672.5ZM676.5,313.5H678.5V315.5H676.5ZM681.5,313.5H683.5V340.5H681.5ZM686.5,339.5H688.5V365.5H686.5ZM701.5,343.5H703.5V364.5H701.5ZM706.5,365.5H708.5V403.5H706.5ZM721.5,372.5H723.5V384.5H721.5ZM726.5,380.5H728.5V438.5H726.5ZM731.5,439.5H733.5V486.5H731.5ZM755.5,412.5H757.5V423.5H755.5ZM760.5,423.5H762.5V443.5H760.5ZM765.5,441.5H767.5V460.5H765.5ZM775.5,444.5H777.5V452.5H775.5ZM785.5,424.5H787.5V434.5H785.5ZM789.5,433.5H791.5V435.5H789.5ZM809.5,404.5H811.5V437.5H809.5ZM819.5,418.5H821.5V421.5H819.5ZM824.5,420.5H826.5V466.5H824.5ZM829.5,466.5H831.5V494.5H829.5ZM844.5,393.5H846.5V435.5H844.5ZM848.5,435.5H850.5V441.5H848.5ZM858.5,427.5H860.5V448.5H858.5ZM863.5,449.5H865.5V457.5H863.5ZM868.5,457.5H870.5V498.5H868.5ZM878.5,470.5H880.5V479.5H878.5ZM893.5,438.5H895.5V442.5H893.5ZM898.5,440.5H900.5V449.5H898.5ZM907.5,428.5H909.5V467.5H907.5ZM912.5,468.5H914.5V471.5H912.5ZM917.5,463.5H919.5V468.5H917.5ZM922.5,468.5H924.5V488.5H922.5ZM942.5,455.5H944.5V460.5H942.5ZM966.5,408.5H968.5V418.5H966.5ZM986.5,365.5H988.5V390.5H986.5ZM991.5,393.5H993.5V406.5H991.5ZM1001.5,384.5H1003.5V389.5H1001.5ZM1025.5,336.5H1027.5V341.5H1025.5ZM1050.5,298.5H1052.5V330.5H1050.5ZM1065.5,287.5H1067.5V293.5H1065.5ZM1079.5,268.5H1081.5V288.5H1079.5ZM1089.5,284.5H1091.5V292.5H1089.5ZM1094.5,291.5H1096.5V311.5H1094.5ZM1099.5,309.5H1101.5V336.5H1099.5ZM1114.5,315.5H1116.5V323.5H1114.5ZM1119.5,322.5H1121.5V330.5H1119.5ZM1123.5,330.5H1125.5V346.5H1123.5ZM1138.5,324.5H1140.5V327.5H1138.5ZM1163.5,244.5H1165.5V246.5H1163.5ZM1178.5,223.5H1180.5V235.5H1178.5ZM1217.5,178.5H1219.5V182.5H1217.5ZM1222.5,182.5H1224.5V202.5H1222.5ZM1236.5,183.5H1238.5V193.5H1236.5ZM1251.5,140.5H1253.5V167.5H1251.5ZM1256.5,166.5H1258.5V179.5H1256.5ZM1261.5,179.5H1263.5V210.5H1261.5ZM1271.5,197.5H1273.5V266.5H1271.5ZM1276.5,264.5H1278.5V292.5H1276.5ZM1290.5,238.5H1292.5V245.5H1290.5ZM1295.5,245.5H1297.5V281.5H1295.5ZM1310.5,222.5H1312.5V230.5H1310.5ZM1330.5,202.5H1332.5V215.5H1330.5ZM1335.5,218.5H1337.5V243.5H1335.5ZM1340.5,243.5H1342.5V277.5H1340.5ZM1349.5,253.5H1351.5V279.5H1349.5ZM1359.5,258.5H1361.5V266.5H1359.5ZM1364.5,267.5H1366.5V289.5H1364.5ZM1369.5,288.5H1371.5V306.5H1369.5ZM1374.5,304.5H1376.5V314.5H1374.5ZM1384.5,290.5H1386.5V314.5H1384.5ZM1389.5,310.5H1391.5V314.5H1389.5ZM1394.5,314.5H1396.5V364.5H1394.5ZM1399.5,365.5H1401.5V384.5H1399.5ZM1403.5,383.5H1405.5V385.5H1403.5ZM1418.5,347.5H1420.5V350.5H1418.5ZM1423.5,350.5H1425.5V372.5H1423.5ZM1428.5,376.5H1430.5V425.5H1428.5ZM1448.5,355.5H1450.5V369.5H1448.5ZM1453.5,369.5H1455.5V375.5H1453.5ZM1458.5,375.5H1460.5V391.5H1458.5ZM1462.5,389.5H1464.5V394.5H1462.5ZM1477.5,355.5H1479.5V386.5H1477.5ZM1482.5,385.5H1484.5V405.5H1482.5ZM1492.5,416.5H1494.5V434.5H1492.5ZM1497.5,432.5H1499.5V472.5H1497.5ZM1516.5,442.5H1518.5V478.5H1516.5ZM1541.5,421.5H1543.5V425.5H1541.5Z" fill="#f22b42" stroke="#b3192b" stroke-width="1"/>
<line x1="1238.5" y1="111.9" x2="1590.8" y2="449.1" stroke="#6aa8d6" stroke-width="2.5" stroke-dasharray="9 7"/>
<line x1="1238.5" y1="111.9" x2="1590.8" y2="449.1" stroke="#a3a3a3" stroke-width="1.1" stroke-opacity="0.9"/>
<line x1="1258" y1="275.6" x2="1605.5" y2="607.5" stroke="#6aa8d6" stroke-width="2.5" stroke-dasharray="9 7"/>
<line x1="1258" y1="275.6" x2="1605.5" y2="607.5" stroke="#a3a3a3" stroke-width="1.1" stroke-opacity="0.9"/>
<rect x="1429.1" y="332.6" width="59.4" height="95.5" fill="none" stroke="#7b85c8" stroke-width="2.6"/>
<rect x="1508.6" y="398.7" width="58.9" height="95.6" fill="none" stroke="#7b85c8" stroke-width="2.8"/>
<line x1="1542.5" y1="18" x2="1542.5" y2="866" stroke="#9fb0ba" stroke-width="1.3" stroke-dasharray="8.5 7.5"/>
<path d="M4.8,712.9 L14.5,712.9 L19.8,707.6 L38.6,707.6 L44.6,710.9 L63.9,710.9 L69.5,712.9 L92.8,712.9 L97.7,711.9 L117.7,711.9 L123.5,706.6 L142.3,706.6 L147.1,705.6 L166.4,705.6 L171.7,712.9 L191.7,712.9 L197.7,717.0 L239.9,717.0 L246.0,719.9 L284.6,719.9 L290.1,717.0 L305.1,717.0 L310.6,721.8 L329.2,721.8 L334.7,727.8 L353.3,727.8 L358.8,718.9 L377.4,718.9 L383.4,713.6 L402.2,713.6 L408.0,715.8 L426.4,715.8 L432.2,719.9 L440.0,719.9 L476.2,719.9 L481.5,720.8 L500.3,720.8 L506.3,724.0 L554.5,724.0 L560.6,727.8 L584.7,727.8 L589.5,738.9 L608.8,738.9 L614.1,736.0 L633.4,736.0 L639.0,723.0 L652.7,723.0 L658.2,717.0 L677.5,717.0 L683.6,710.9 L701.7,710.9 L707.7,711.9 L727.0,711.9 L732.5,715.0 L751.6,715.0 L757.1,718.9 L775.7,718.9 L781.2,725.9 L800.5,725.9 L806.6,729.0 L824.6,729.0 L830.7,734.8 L850.0,734.8 L855.3,733.8 L873.6,733.8 L878.9,737.0 L880.0,737.0 L922.9,737.0 L928.2,741.8 L943.2,741.8 L948.7,740.8 L972.1,740.8 L977.7,734.8 L997.0,734.8 L1002.5,724.9 L1021.8,724.9 L1027.1,719.9 L1045.9,719.9 L1051.7,715.0 L1070.5,715.0 L1076.5,711.9 L1094.6,711.9 L1100.7,715.0 L1119.9,715.0 L1125.5,717.9 L1144.1,717.9 L1149.6,717.0 L1168.9,717.0 L1174.2,705.1 L1193.5,705.1 L1199.5,693.8 L1217.6,693.8 L1223.6,690.0 L1242.9,690.0 L1248.5,684.9 L1291.2,684.9 L1297.2,690.0 L1316.0,690.0 L1320.0,693.8 L1321.8,693.8 L1369.4,693.8 L1375.0,703.9 L1394.8,703.9 L1400.3,713.8 L1419.4,713.8 L1424.9,720.8 L1443.5,720.8 L1449.7,725.9 L1468.3,725.9 L1474.3,731.9 L1493.1,731.9 L1498.5,732.9 L1517.3,732.9 L1523.1,736.0 L1541.9,736.0" fill="none" stroke="#6fc79f" stroke-width="1.6"/>
<path d="M4.8,846.3 L10.9,844.6 L16.9,846.3 L24.1,848.7 L30.1,849.9 L36.2,849.2 L39.8,849.9 L44.6,848.0 L50.6,847.5 L56.7,846.8 L63.9,846.8 L69.9,848.7 L74.8,849.2 L79.6,852.3 L83.9,851.1 L90.4,854.0 L98.9,857.2 L102.5,856.7 L108.5,851.6 L112.9,851.1 L118.2,856.0 L123.5,858.4 L129.0,854.8 L133.8,851.9 L138.7,854.8 L144.2,859.1 L151.9,859.6 L158.0,864.9 L166.4,861.3 L174.8,864.4 L182.1,869.7 L188.1,865.6 L192.9,866.3 L197.7,864.4 L207.4,864.4 L217.0,864.4 L221.9,863.7 L229.1,865.6 L236.3,868.0 L243.6,864.9 L250.8,864.4 L259.2,869.7 L265.3,864.9 L270.1,861.3 L276.1,862.0 L284.6,858.9 L291.8,858.4 L299.0,859.6 L305.1,859.1 L313.5,854.8 L320.7,851.6 L328.0,851.1 L334.0,845.6 L347.3,845.6 L356.9,842.2 L365.4,839.3 L373.8,843.9 L385.8,844.6 L395.5,847.0 L402.7,843.9 L407.6,845.6 L417.2,846.8 L426.8,841.5 L436.5,843.9 L440.0,843.2 L441.3,843.2 L447.2,836.7 L452.1,835.0 L456.9,835.9 L462.9,835.0 L468.9,835.9 L472.6,835.0 L476.7,831.4 L481.0,834.7 L485.8,833.1 L490.6,835.0 L496.7,838.6 L501.5,837.9 L509.9,829.4 L516.0,825.1 L520.8,819.3 L525.6,822.2 L531.2,826.3 L534.5,844.6 L539.4,846.3 L544.9,840.3 L549.7,842.2 L555.3,851.1 L560.6,854.8 L567.8,860.8 L572.6,862.0 L575.0,862.0 L579.9,868.5 L584.7,860.3 L589.5,866.8 L595.5,865.6 L604.0,857.2 L613.6,863.2 L618.5,863.9 L625.7,867.3 L629.3,866.8 L636.5,857.2 L643.8,848.7 L652.2,854.8 L658.2,849.9 L667.9,851.1 L673.9,856.0 L678.7,856.0 L683.6,859.6 L687.9,848.7 L693.2,856.0 L698.0,874.5 L701.7,852.3 L707.7,848.0 L712.5,848.7 L722.2,856.0 L727.0,853.6 L733.0,847.5 L737.8,845.1 L742.7,840.3 L747.0,831.4 L752.3,839.1 L755.9,841.5 L761.2,836.2 L765.6,838.4 L772.8,833.5 L776.4,831.8 L781.2,827.0 L786.1,827.7 L790.9,824.1 L795.7,824.9 L801.7,817.9 L806.6,817.4 L811.4,819.8 L815.7,816.2 L819.8,816.9 L825.4,825.3 L829.5,824.9 L835.5,819.8 L840.3,818.1 L845.1,811.8 L850.0,811.8 L859.6,807.7 L865.6,812.6 L869.3,812.6 L874.1,809.7 L878.9,815.0 L880.0,814.5 L883.7,814.2 L887.2,812.6 L895.7,809.4 L899.3,808.5 L904.1,805.3 L908.9,807.7 L913.8,807.0 L918.6,804.1 L922.9,809.4 L927.7,804.1 L933.1,808.5 L939.1,805.3 L942.7,804.8 L947.5,802.2 L952.3,807.7 L957.7,809.4 L963.2,802.2 L970.4,799.3 L972.8,799.3 L977.7,804.6 L981.3,804.6 L987.3,812.6 L992.1,812.6 L998.2,810.9 L1001.8,810.9 L1006.6,807.3 L1012.6,807.7 L1022.3,804.1 L1027.1,804.6 L1035.5,800.0 L1042.8,802.9 L1048.8,807.7 L1054.8,812.6 L1060.9,815.7 L1065.7,814.2 L1071.7,809.7 L1082.6,805.6 L1086.2,806.0 L1095.8,811.8 L1101.9,813.0 L1105.5,814.5 L1110.3,812.1 L1115.1,814.5 L1121.2,812.1 L1128.4,808.2 L1134.4,807.7 L1144.1,803.4 L1148.9,807.3 L1153.7,808.5 L1159.7,804.6 L1173.0,804.6 L1179.0,810.9 L1183.9,813.8 L1188.7,813.8 L1193.5,810.1 L1199.5,803.4 L1203.1,802.2 L1208.0,805.6 L1212.8,804.1 L1218.8,802.2 L1223.6,802.2 L1228.5,803.6 L1233.3,804.1 L1241.7,808.5 L1247.8,806.5 L1253.8,804.8 L1257.4,806.0 L1262.2,810.6 L1267.1,804.8 L1270.7,805.6 L1276.7,810.6 L1281.5,804.1 L1287.6,797.4 L1292.4,797.4 L1300.8,801.7 L1306.8,798.8 L1311.7,799.8 L1316.5,798.1 L1320.0,800.2 L1320.8,799.8 L1325.7,795.0 L1335.7,793.9 L1341.2,797.7 L1345.3,795.8 L1351.4,797.7 L1356.2,797.7 L1361.0,799.9 L1365.8,799.0 L1371.8,802.3 L1380.3,804.7 L1384.6,803.8 L1389.9,798.2 L1394.8,799.0 L1399.6,801.8 L1404.9,807.4 L1414.5,795.8 L1423.7,802.6 L1429.0,808.6 L1434.5,805.0 L1439.4,806.7 L1444.2,805.9 L1449.0,804.3 L1453.8,806.7 L1458.7,807.2 L1464.0,815.6 L1469.5,810.8 L1474.3,810.8 L1481.6,809.6 L1487.6,813.2 L1493.6,812.2 L1498.5,813.9 L1506.9,814.6 L1512.9,813.2 L1517.7,813.9 L1528.6,805.9 L1533.4,805.0 L1542.3,809.6" fill="none" stroke="#f6a85c" stroke-width="1.1"/>
<path d="M1542.3,809.6 L1552.0,799.0 L1557.5,799.9 L1567.2,795.8 L1576.8,797.7 L1582.9,795.8 L1592.5,793.9 L1605.8,793.4 L1611.8,783.8 L1615.4,783.0 L1621.4,778.9 L1626.3,778.9 L1635.9,772.9 L1641.9,772.9 L1645.6,773.6 L1650.4,771.7 L1655.2,771.7 L1661.2,767.4 L1664.9,766.9 L1669.7,769.3 L1675.7,773.4 L1680.5,772.9 L1685.4,771.2 L1691.4,772.2 L1699.8,772.2 L1704.6,770.0 L1709.5,769.8 L1715.5,767.6 L1720.3,767.4 L1728.8,765.0" fill="none" stroke="#7cb846" stroke-width="1.1"/>
</svg>
<div class="t" style="left:20px;top:12px;font-size:13px;font-weight:bold;color:#34434a;transform:scaleX(0.87);transform-origin:0 0">OIL.WTI</div>
<div class="t" style="left:67px;top:15px;font-size:8.3px;color:#8a8f93;transform:scaleX(0.9);transform-origin:0 0">CMD</div>
<svg class="ic" style="left:92px;top:14px" width="10" height="6"><path d="M1,1H9L5,5Z" fill="#7d7d7d"/></svg>
<svg class="ic" style="left:112px;top:11px" width="14" height="14"><circle cx="7" cy="7" r="6" fill="#8d8d8d"/><rect x="6" y="6" width="2" height="5" fill="#fff"/><circle cx="7" cy="4" r="1.1" fill="#fff"/></svg>
<div style="position:absolute;left:137px;top:10px;width:42px;height:13.5px;border:1px solid #e2e2e2"></div>
<div class="t" style="left:143px;top:14px;font-size:10px;color:#34434a">D1</div>
<svg class="ic" style="left:168px;top:15px" width="10" height="6"><path d="M1,1H9L5,5Z" fill="#7d7d7d"/></svg>
<div class="t ax" style="left:1741px;top:49px"><i class="one"></i>.<i class="one"></i>3762</div>
<div class="t ax" style="left:1806px;top:49px"><i class="one"></i>00.06</div>
<div class="t ax" style="left:1741px;top:86px"><i class="one"></i>.<i class="one"></i>2483</div>
<div class="t ax" style="left:1806px;top:86px">97.33</div>
<div class="t ax" style="left:1741px;top:123px"><i class="one"></i>.<i class="one"></i>1125</div>
<div class="t ax" style="left:1806px;top:123px">94.61</div>
<div class="t ax" style="left:1741px;top:160px"><i class="one"></i>.09807</div>
<div class="t ax" style="left:1806px;top:160px">91.88</div>
<div class="t ax" style="left:1741px;top:196px"><i class="one"></i>.08488</div>
<div class="t ax" style="left:1806px;top:196px">89.16</div>
<div class="t ax" style="left:1741px;top:233px"><i class="one"></i>.07170</div>
<div class="t ax" style="left:1806px;top:233px">86.43</div>
<div class="t ax" style="left:1741px;top:270px"><i class="one"></i>.05851</div>
<div class="t ax" style="left:1806px;top:270px">83.71</div>
<div class="t ax" style="left:1741px;top:307px"><i class="one"></i>.04533</div>
<div class="t ax" style="left:1806px;top:307px">80.98</div>
<div class="t ax" style="left:1741px;top:344px"><i class="one"></i>.03215</div>
<div class="t ax" style="left:1806px;top:344px">78.26</div>
<div class="t ax" style="left:1741px;top:381px"><i class="one"></i>.01896</div>
<div class="t ax" style="left:1806px;top:381px">75.53</div>
<div class="t ax" style="left:1741px;top:418px"><i class="one"></i>.00578</div>
<div class="t ax" style="left:1741px;top:455px">0.99259</div>
<div class="t ax" style="left:1806px;top:455px">70.08</div>
<div class="t ax" style="left:1741px;top:491px">0.97581</div>
<div class="t ax" style="left:1806px;top:491px">67.36</div>
<div class="t ax" style="left:1741px;top:528px">0.96623</div>
<div class="t ax" style="left:1806px;top:528px">64.63</div>
<svg class="ic" style="left:1794px;top:417px" width="61" height="17"><path d="M0,8.5L8,0H60V17H8Z" fill="#7f8c93"/></svg>
<div class="t" style="left:1806px;top:420px;font-size:12px;font-weight:bold;color:#fff">72.67</div>
<div class="t" style="left:1696px;top:527px;width:36px;height:15px;background:#b00000"></div>
<div class="t" style="left:1700px;top:529px;font-size:11.5px;color:#fff;letter-spacing:0.3px">64.75</div>
<div class="t ax" style="left:1806px;top:618px">652400</div>
<div class="t ax" style="left:1806px;top:730px">226241</div>
<div class="t ax" style="left:1806px;top:737px">204200</div>
<div class="t ax" style="left:1806px;top:760px">58.909</div>
<div class="t ax" style="left:1806px;top:785px">53.647</div>
<div class="t ax" style="left:1806px;top:816px">48.386</div>
<div class="t ax" style="left:1806px;top:848px">43.124</div>
<div class="t ax" style="left:1806px;top:874px">37.863</div>
<div class="t dt" style="left:5.5px">07.10.2022</div>
<div class="t dt" style="left:138.5px">14.11.2022</div>
<div class="t dt" style="left:270.5px">21.12.2022</div>
<div class="t dt" style="left:403.5px">31.01.2023</div>
<div class="t dt" style="left:535.5px">09.03.2023</div>
<div class="t dt" style="left:668.5px">14.04.2023</div>
<div class="t dt" style="left:800.5px">23.05.2023</div>
<div class="t dt" style="left:933.5px">29.06.2023</div>
<div class="t dt" style="left:1066.5px">07.08.2023</div>
<div class="t dt" style="left:1198.5px">13.09.2023</div>
<div class="t dt" style="left:1331.5px">20.10.2023</div>
<div class="t dt" style="left:1464.5px">29.11.2023</div>
<div class="t dt" style="left:1596.5px">30.12.2023</div>
<div class="tag" style="left:1486px;top:594px;width:111px">19.12.2023 00:00</div>
<div class="tag" style="left:1486px;top:743px;width:111px">19.12.2023 00:00</div>
<div class="tag" style="left:1486px;top:869px;width:111px">19.12.2023 00:00</div>
<svg class="ic" style="left:6px;top:548.5px" width="24" height="10"><path d="M0,0H10V5H0Z M0,6.5H10V8.5H0Z" fill="#a6a6a6"/><path d="M5,1.5H9" stroke="#fff" stroke-width="1"/><path d="M14.5,0.5L21.5,7.5M21.5,0.5L14.5,7.5" stroke="#a6a6a6" stroke-width="2.3"/></svg>
<div class="t lg" style="left:31px;top:551px">SMA [100, 0] 81.77</div>
<svg class="ic" style="left:6px;top:562.5px" width="24" height="10"><path d="M0,0H10V5H0Z M0,6.5H10V8.5H0Z" fill="#a6a6a6"/><path d="M5,1.5H9" stroke="#fff" stroke-width="1"/><path d="M14.5,0.5L21.5,7.5M21.5,0.5L14.5,7.5" stroke="#a6a6a6" stroke-width="2.3"/></svg>
<div class="t lg" style="left:31px;top:565px">SMA [50, 0] 78.26</div>
<svg class="ic" style="left:6px;top:576.5px" width="24" height="10"><path d="M0,0H10V5H0Z M0,6.5H10V8.5H0Z" fill="#a6a6a6"/><path d="M5,1.5H9" stroke="#fff" stroke-width="1"/><path d="M14.5,0.5L21.5,7.5M21.5,0.5L14.5,7.5" stroke="#a6a6a6" stroke-width="2.3"/></svg>
<div class="t lg" style="left:31px;top:579px">SMA [200, 0] 77.76</div>
<svg class="ic" style="left:6px;top:590.5px" width="24" height="10"><path d="M0,0H10V5H0Z M0,6.5H10V8.5H0Z" fill="#a6a6a6"/><path d="M5,1.5H9" stroke="#fff" stroke-width="1"/><path d="M14.5,0.5L21.5,7.5M21.5,0.5L14.5,7.5" stroke="#a6a6a6" stroke-width="2.3"/></svg>
<div class="t lg" style="left:31px;top:593px">SMA [25, 0] 73.71</div>
<svg class="ic" style="left:6px;top:741px" width="24" height="10"><path d="M0,0H10V5H0Z M0,6.5H10V8.5H0Z" fill="#a6a6a6"/><path d="M5,1.5H9" stroke="#fff" stroke-width="1"/><path d="M14.5,0.5L21.5,7.5M21.5,0.5L14.5,7.5" stroke="#a6a6a6" stroke-width="2.3"/></svg>
<div class="t lg" style="left:31px;top:742.5px">COT</div>
<svg class="ic" style="left:6px;top:870px" width="24" height="10"><path d="M0,0H10V5H0Z M0,6.5H10V8.5H0Z" fill="#a6a6a6"/><path d="M5,1.5H9" stroke="#fff" stroke-width="1"/><path d="M14.5,0.5L21.5,7.5M21.5,0.5L14.5,7.5" stroke="#a6a6a6" stroke-width="2.3"/></svg>
<div class="t lg" style="left:31px;top:872px">Seasonal&nbsp; Trends&nbsp; [5]&nbsp; 50.020</div>
<div class="t" style="left:1674px;top:580.5px;font-size:15px;color:#f7931e">10<span style="color:#b5bcc1">h</span> 15<span style="color:#b5bcc1">m</span></div>
<div class="t" style="left:1739px;top:575px;width:6px;height:6px;background:#4fc3f7"></div>
<div class="t" style="left:1749px;top:574px;font-size:8.5px;font-weight:bold;color:#3b3f42;transform:scaleX(0.93);transform-origin:0 0">EURUSD</div>
<div class="t" style="left:1809px;top:575px;width:6px;height:6px;background:#27ae60"></div>
<div class="t" style="left:1818.5px;top:574px;font-size:8.5px;font-weight:bold;color:#3b3f42;letter-spacing:-0.3px;transform:scaleX(0.9);transform-origin:0 0">OIL.WT..</div>
<svg class="ic" style="left:1742px;top:589px" width="44" height="13"><ellipse cx="7.5" cy="6" rx="6.5" ry="4" fill="none" stroke="#cfd5d9" stroke-width="1"/><circle cx="7.5" cy="6" r="2" fill="#cfd5d9"/><path d="M21,5L24.5,1L28,5Z M21,7L24.5,11L28,7Z" fill="#3d4a52"/><path d="M35,3L41,9.5M41,3L35,9.5" stroke="#e53935" stroke-width="1.6"/></svg>
<svg class="ic" style="left:1811px;top:585px" width="40" height="16"><rect x="0" y="0" width="40" height="16" rx="3.5" fill="#e53935"/><path d="M7,3V13M12,3V13M17,4V12" stroke="#fff" stroke-width="1"/><rect x="5.5" y="5" width="3" height="6" fill="#fff"/><rect x="15.5" y="6" width="3" height="4" fill="#fff"/><path d="M27,4.5L33,10.5M33,4.5L27,10.5" stroke="#fff" stroke-width="1.8"/></svg>
</body></html>
